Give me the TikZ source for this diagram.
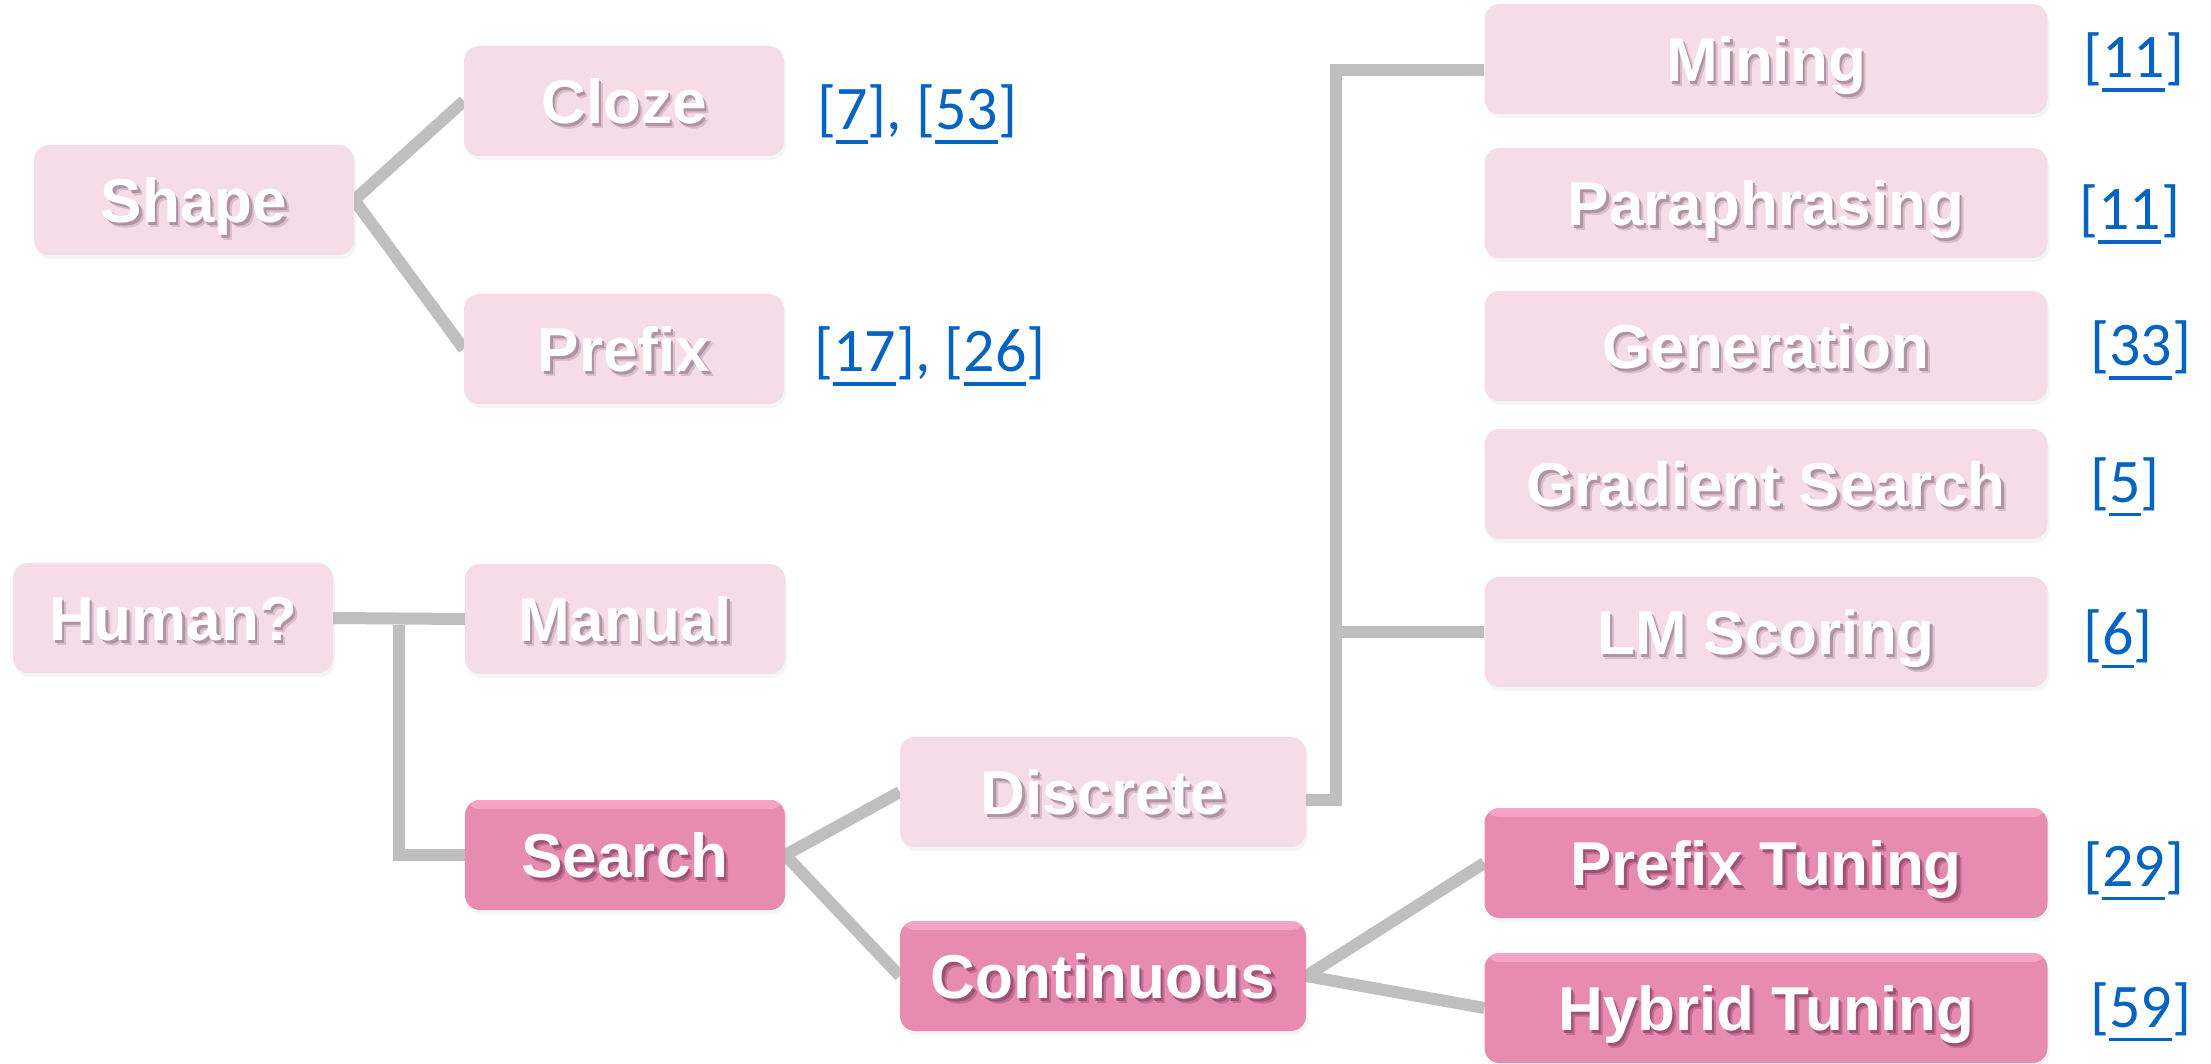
\documentclass[tikz,border=0pt]{standalone}
\usepackage{fontspec}
\setmainfont{Liberation Sans}
\newfontfamily\citefont{Carlito}
\usetikzlibrary{shadows,backgrounds,calc}

\definecolor{boxlight}{HTML}{F6DCE6}
\definecolor{boxdark}{HTML}{E78BB0}
\definecolor{boxdarktop}{HTML}{F5A5C4}
\definecolor{shadelight}{HTML}{B094A3}
\definecolor{shadelightsoft}{HTML}{D9BDCA}
\definecolor{shadedark}{HTML}{9E5275}
\definecolor{shadedarksoft}{HTML}{C46E94}
\definecolor{connector}{HTML}{BFBFBF}
\definecolor{citeblue}{HTML}{0563C1}
\colorlet{txtshade}{shadelight}
\colorlet{txtshadesoft}{shadelightsoft}

% white label with a soft, two-step offset shadow behind it
\newcommand\shadowtext[1]{\leavevmode
  \rlap{\kern4.5pt\raisebox{-5pt}{\textcolor{txtshadesoft}{#1}}}%
  \rlap{\kern2.5pt\raisebox{-3pt}{\textcolor{txtshade}{#1}}}#1}
% underlined reference number
\newcommand\reflink[1]{\setbox0\hbox{#1}\rlap{\rule[-14pt]{\wd0}{3.5pt}}\box0}

\tikzset{
  box/.style={rounded corners=15pt, minimum height=110pt, inner sep=0pt,
    text height=45pt, text depth=0pt, text=white,
    font=\fontsize{62}{70}\selectfont\bfseries,
    drop shadow={shadow xshift=2pt, shadow yshift=-4pt, opacity=0.08}},
  narrowbox/.style={minimum width=320pt},
  midbox/.style={minimum width=406pt},
  widebox/.style={minimum width=563pt},
  lightbox/.style={box, fill=boxlight,
    execute at begin node={\colorlet{txtshade}{shadelight}\colorlet{txtshadesoft}{shadelightsoft}}},
  darkbox/.style={box, fill=boxdark,
    execute at begin node={\colorlet{txtshade}{shadedark}\colorlet{txtshadesoft}{shadedarksoft}},
    path picture={\shade[top color=boxdarktop, bottom color=boxdark]
      (path picture bounding box.north west) rectangle
      ([yshift=-9pt]path picture bounding box.north east);}},
  cite/.style={anchor=base west, inner sep=0pt, text=citeblue,
    font=\citefont\fontsize{62}{70}\selectfont},
  conn/.style={draw=connector, line width=12pt},
}

\begin{document}
\begin{tikzpicture}[x=1pt, y=-1pt]
\useasboundingbox (0,0) rectangle (2211,1064);

% prompt shape
\node[lightbox, narrowbox] (shape)  at (194,200) {\shadowtext{Shape}};
\node[lightbox, narrowbox] (cloze)  at (624,101) {\shadowtext{Cloze}};
\node[lightbox, narrowbox] (prefix) at (624,349) {\shadowtext{Prefix}};
\node[cite] (citecloze)  at (817,130) {[\reflink{7}], [\reflink{53}]};
\node[cite] (citeprefix) at (814,372) {[\reflink{17}], [\reflink{26}]};

% manual vs. searched templates
\node[lightbox, narrowbox] (human)  at (173,618) {\shadowtext{Human?}};
\node[lightbox, narrowbox] (manual) at (625,619) {\shadowtext{Manual}};
\node[darkbox, narrowbox]  (search) at (625,855) {\shadowtext{Search}};
\node[lightbox, midbox] (discrete)   at (1103,792) {\shadowtext{Discrete}};
\node[darkbox, midbox]  (continuous) at (1103,976) {\shadowtext{Continuous}};

% discrete search methods
\node[lightbox, widebox] (mining)   at (1766,59)  {\shadowtext{Mining}};
\node[lightbox, widebox] (para)     at (1766,203) {\shadowtext{Paraphrasing}};
\node[lightbox, widebox] (gen)      at (1766,346) {\shadowtext{Generation}};
\node[lightbox, widebox] (grad)     at (1766,484) {\shadowtext{Gradient Search}};
\node[lightbox, widebox] (lmscore)  at (1766,632) {\shadowtext{LM Scoring}};

% continuous methods
\node[darkbox, widebox] (prefixtune) at (1766,863)  {\shadowtext{Prefix Tuning}};
\node[darkbox, widebox] (hybridtune) at (1766,1008) {\shadowtext{Hybrid Tuning}};

% references
\node[cite] (citemining) at (2083,78)   {[\reflink{11}]};
\node[cite] (citepara)   at (2079,230)  {[\reflink{11}]};
\node[cite] (citegen)    at (2090,366)  {[\reflink{33}]};
\node[cite] (citegrad)   at (2090,502)  {[\reflink{5}]};
\node[cite] (citelm)     at (2083,654)  {[\reflink{6}]};
\node[cite] (citept)     at (2083,886)  {[\reflink{29}]};
\node[cite] (citeht)     at (2090,1027) {[\reflink{59}]};

% connectors behind the boxes
\begin{pgfonlayer}{background}
  \draw[conn] (cloze.west) -- (shape.east) -- (prefix.west);
  \draw[conn] (human.east) -- (manual.west);
  \coordinate (hsplit) at ($(human.east)!0.5!(manual.west)$);
  \draw[conn] ([yshift=-6pt]hsplit) |- (search.west);
  \draw[conn] (discrete.west) -- (search.east) -- (continuous.west);
  \coordinate (dbar) at (1336,0);
  \coordinate (dstub) at ([yshift=-8pt]discrete.east);
  \coordinate (mhook) at ([yshift=-11pt]mining.west);
  \draw[conn] (dstub) -- (dbar |- dstub) -- (dbar |- mhook) -- (mhook);
  \draw[conn] (dbar |- lmscore.west) -- (lmscore.west);
  \draw[conn] (prefixtune.west) -- (continuous.east) -- (hybridtune.west);
\end{pgfonlayer}
\end{tikzpicture}
\end{document}
